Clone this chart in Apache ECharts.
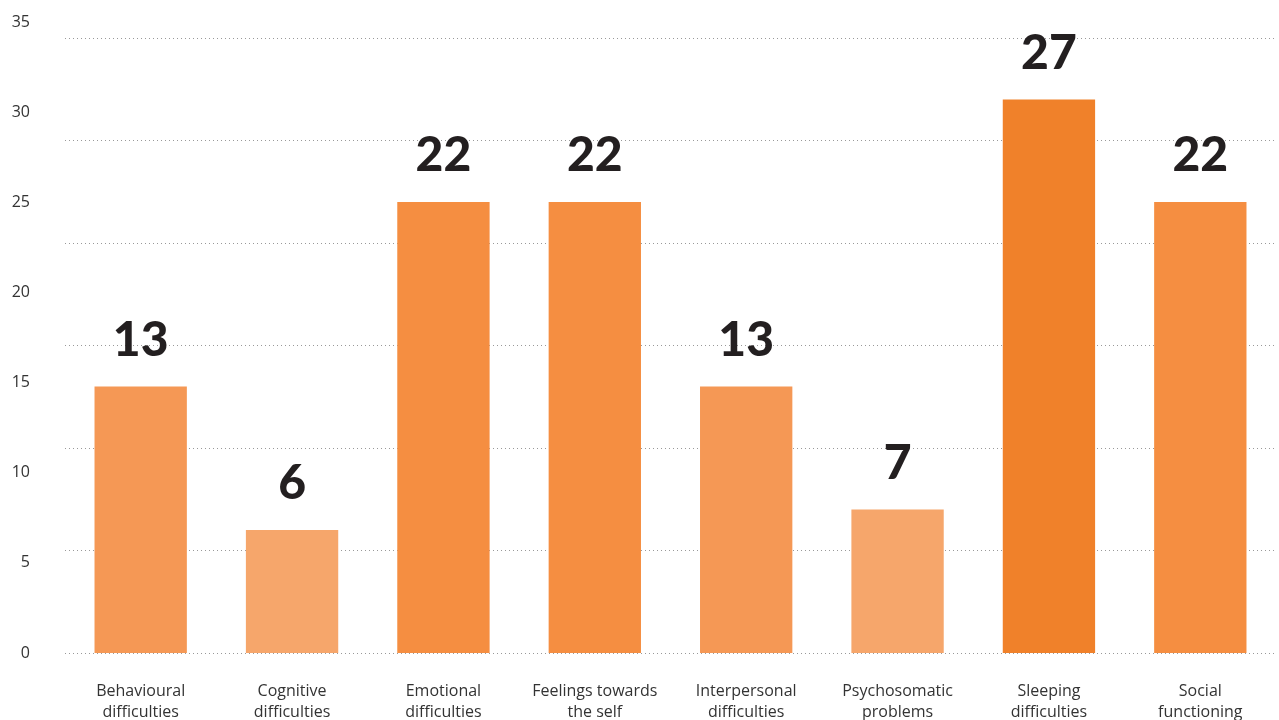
<!DOCTYPE html>
<html>
<head>
<meta charset="utf-8">
<script src="https://cdn.jsdelivr.net/npm/echarts@6/dist/echarts.min.js"></script>
<style>
  html, body { margin: 0; padding: 0; background: #fff; }
  #main { width: 1279px; height: 720px; }
</style>
</head>
<body>
<div id="main"></div>
<script>
var categories = [
  'Behavioural\ndifficulties', 'Cognitive\ndifficulties', 'Emotional\ndifficulties',
  'Feelings towards\nthe self', 'Interpersonal\ndifficulties', 'Psychosomatic\nproblems',
  'Sleeping\ndifficulties', 'Social\nfunctioning'
];
var values = [13, 6, 22, 22, 13, 7, 27, 22];
var barColors = ['#F59855', '#F6A66B', '#F58E41', '#F58E41', '#F59855', '#F6A66B', '#F0812A', '#F58E41'];
var tickLabels = [0, 5, 10, 15, 20, 25, 30, 35];

var chartDom = document.getElementById('main');
var myChart = echarts.init(chartDom);
var option;

var textFont = '"Open Sans", sans-serif';

option = {
  animation: false,
  grid: [
    { left: 65, right: 3, top: 38, bottom: 67, outerBoundsMode: 'none' },
    { left: 65, right: 3, top: 22, bottom: 67, outerBoundsMode: 'none' }
  ],
  xAxis: [
    {
      type: 'category',
      gridIndex: 0,
      data: categories,
      axisLine: { show: false },
      axisTick: { show: false },
      axisLabel: {
        margin: 28,
        color: '#333',
        fontSize: 16,
        lineHeight: 21,
        fontFamily: textFont,
        interval: 0
      }
    },
    {
      type: 'category',
      gridIndex: 1,
      data: categories,
      show: false
    }
  ],
  yAxis: [
    {
      type: 'value',
      gridIndex: 0,
      min: 0,
      max: 30,
      interval: 5,
      axisLine: { show: false },
      axisTick: { show: false },
      axisLabel: { show: false },
      splitLine: {
        show: true,
        lineStyle: { color: '#999', type: [1, 3], width: 1 }
      }
    },
    {
      type: 'value',
      gridIndex: 1,
      min: tickLabels[0],
      max: tickLabels[tickLabels.length - 1],
      interval: 5,
      axisLine: { show: false },
      axisTick: { show: false },
      splitLine: { show: false },
      axisLabel: {
        margin: 35,
        color: '#333',
        fontSize: 16,
        fontFamily: textFont
      }
    }
  ],
  series: [
    {
      type: 'bar',
      xAxisIndex: 0,
      yAxisIndex: 0,
      barWidth: '61%',
      data: values.map(function (v, i) {
        return { value: v, itemStyle: { color: barColors[i] } };
      }),
      label: {
        show: true,
        position: 'top',
        distance: 22,
        color: '#231f20',
        fontSize: 48,
        fontWeight: 900,
        fontFamily: 'Lato, sans-serif'
      }
    }
  ]
};

option && myChart.setOption(option);
</script>
</body>
</html>
